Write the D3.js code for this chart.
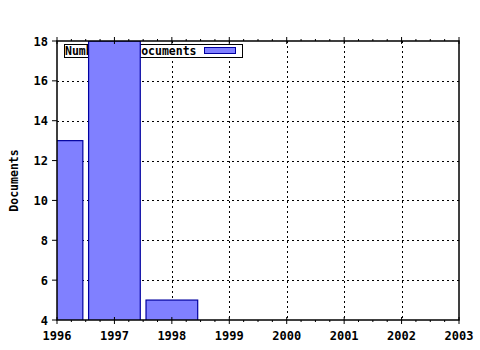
<!DOCTYPE html>
<html>
<head>
<meta charset="utf-8">
<script src="https://cdn.jsdelivr.net/npm/d3@7"></script>
<style>
  body { margin: 0; background: #fff; }
  text { font-family: "DejaVu Sans Mono", monospace; font-weight: bold; }
</style>
</head>
<body>
<svg id="chart" width="480" height="350"></svg>
<script>
// chart data
const years = [1996, 1997, 1998];
const documents = [13, 18, 5];
const xTicks = [1996, 1997, 1998, 1999, 2000, 2001, 2002, 2003];
const yTicks = [4, 6, 8, 10, 12, 14, 16, 18];
const seriesName = "Number of documents";
const yTitle = "Documents";

const svg = d3.select("#chart");
const margin = { top: 41, right: 21, bottom: 30, left: 57 };
const width = +svg.attr("width");
const height = +svg.attr("height");

const x = d3.scaleLinear()
    .domain([1996, 2003])
    .range([margin.left, width - margin.right]);

const y = d3.scaleLinear()
    .domain([4, 18])
    .range([height - margin.bottom, margin.top]);

svg.append("defs").append("clipPath").attr("id", "plotClip")
    .append("rect")
    .attr("x", x(1996)).attr("y", y(18))
    .attr("width", x(2003) - x(1996)).attr("height", y(4) - y(18));

// dotted grid
const grid = svg.append("g").attr("stroke", "#000").attr("stroke-dasharray", "2,3").attr("stroke-width", 1);
grid.selectAll(".vg")
    .data(xTicks.slice(1, -1))
    .enter().append("line")
    .attr("x1", d => Math.round(x(d)) + 0.5).attr("x2", d => Math.round(x(d)) + 0.5)
    .attr("y1", y(18)).attr("y2", y(4));
grid.selectAll(".hg")
    .data(yTicks.slice(1, -1))
    .enter().append("line")
    .attr("y1", d => Math.round(y(d)) + 0.5).attr("y2", d => Math.round(y(d)) + 0.5)
    .attr("x1", x(1996)).attr("x2", x(2003));

// legend
const legend = svg.append("g");
legend.append("rect")
    .attr("x", 64.5).attr("y", 44.5).attr("width", 178).attr("height", 13)
    .attr("fill", "#fff").attr("stroke", "#000");
legend.append("text")
    .attr("x", 65).attr("y", 55)
    .attr("font-size", "11.5px")
    .text(seriesName);
legend.append("rect")
    .attr("x", 204.5).attr("y", 47.5).attr("width", 31).attr("height", 6)
    .attr("fill", "#8080ff").attr("stroke", "#0000a0");

// bars
const barW = 0.9;
svg.append("g").attr("clip-path", "url(#plotClip)")
    .selectAll(".bar")
    .data(years.map((yr, i) => ({ yr, v: documents[i] })))
    .enter().append("rect")
    .attr("class", "bar")
    .attr("x", d => x(d.yr - barW / 2))
    .attr("y", d => y(d.v))
    .attr("width", d => x(d.yr + barW / 2) - x(d.yr - barW / 2))
    .attr("height", d => y(4) - y(d.v) + 1)
    .attr("fill", "#8080ff")
    .attr("stroke", "#0000a0")
    .attr("stroke-width", 1.2);

// frame
svg.append("rect")
    .attr("x", x(1996)).attr("y", y(18))
    .attr("width", x(2003) - x(1996)).attr("height", y(4) - y(18))
    .attr("fill", "none").attr("stroke", "#000").attr("stroke-width", 1.5);

// x ticks (major + minor quarters), bottom and top
const minor = d3.range(1996, 2003.001, 0.25).filter(v => Math.abs(v - Math.round(v)) > 0.01);
const ticks = svg.append("g").attr("stroke", "#000");
ticks.selectAll(".xm")
    .data(xTicks)
    .enter().append("line")
    .attr("x1", d => x(d)).attr("x2", d => x(d))
    .attr("y1", y(4) - 3).attr("y2", y(4) + 4);
ticks.selectAll(".xn")
    .data(minor)
    .enter().append("line")
    .attr("x1", d => x(d)).attr("x2", d => x(d))
    .attr("y1", y(4)).attr("y2", y(4) + 2);
ticks.selectAll(".xt")
    .data(xTicks)
    .enter().append("line")
    .attr("x1", d => x(d)).attr("x2", d => x(d))
    .attr("y1", y(18) - 4).attr("y2", y(18) + 3);
ticks.selectAll(".xtn")
    .data(minor)
    .enter().append("line")
    .attr("x1", d => x(d)).attr("x2", d => x(d))
    .attr("y1", y(18) - 2).attr("y2", y(18));
ticks.selectAll(".ym")
    .data(yTicks)
    .enter().append("line")
    .attr("x1", x(1996) - 5).attr("x2", x(1996))
    .attr("y1", d => y(d)).attr("y2", d => y(d));

// tick labels
svg.append("g").selectAll("text")
    .data(xTicks)
    .enter().append("text")
    .attr("x", d => x(d))
    .attr("y", height - margin.bottom + 20)
    .attr("text-anchor", "middle")
    .attr("font-size", "12px")
    .text(d => d);

svg.append("g").selectAll("text")
    .data(yTicks)
    .enter().append("text")
    .attr("x", x(1996) - 9)
    .attr("y", d => y(d) + 4.5)
    .attr("text-anchor", "end")
    .attr("font-size", "12px")
    .text(d => d);

svg.append("text")
    .attr("transform", `translate(18,${(y(4) + y(18)) / 2}) rotate(-90)`)
    .attr("text-anchor", "middle")
    .attr("font-size", "11.5px")
    .text(yTitle);
</script>
</body>
</html>
